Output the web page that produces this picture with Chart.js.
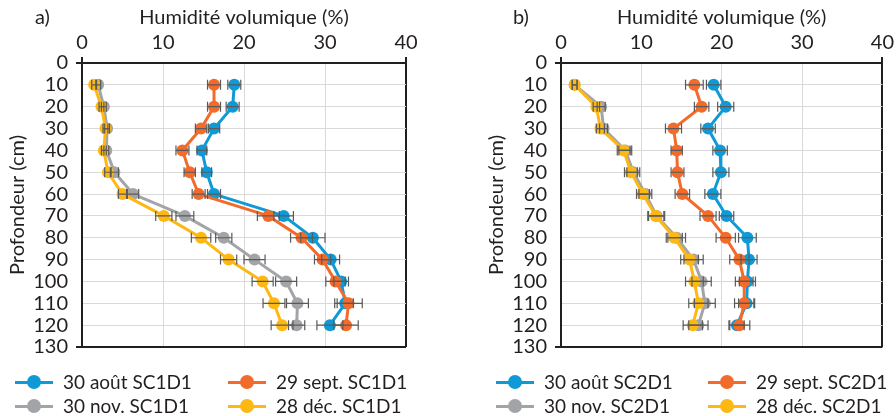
<!DOCTYPE html>
<html>
<head>
<meta charset="utf-8">
<script src="https://cdn.jsdelivr.net/npm/chart.js@4"></script>
<style>
  body { margin: 0; background: #fff; font-family: Lato, "Open Sans", sans-serif; color: #231f20; }
  .panel { position: absolute; top: 0; width: 448px; height: 416px; }
  .panel canvas { position: absolute; left: 0; top: 0; }
  .leg { position: absolute; font-size: 19px; line-height: 22px; white-space: nowrap; display: flex; align-items: center; }
  .mk { position: relative; width: 38px; height: 14px; margin-right: 10px; }
  .mk::before { content: ""; position: absolute; left: 0; right: 0; top: 5.5px; height: 3px; background: var(--c); }
  .mk::after { content: ""; position: absolute; left: 12px; top: 0; width: 14px; height: 14px; border-radius: 50%; background: var(--c); }
</style>
</head>
<body>
<div class="panel" id="pa" style="left:0"><canvas id="chartA" width="448" height="416"></canvas></div>
<div class="panel" id="pb" style="left:448px"><canvas id="chartB" width="448" height="416"></canvas></div>
<script>
// profondeurs (cm)
const profondeurs = [10, 20, 30, 40, 50, 60, 70, 80, 90, 100, 110, 120];

// a) SC1D1 - humidité volumique (%)
const a_aout = [18.8, 18.6, 16.3, 14.8, 15.4, 16.3, 24.9, 28.5, 30.7, 32.0, 32.5, 30.6];
const a_sept = [16.3, 16.3, 14.7, 12.4, 13.3, 14.4, 23.0, 27.1, 29.7, 31.3, 32.9, 32.6];
const a_nov  = [2.0, 2.7, 3.1, 3.0, 4.0, 6.3, 12.7, 17.5, 21.3, 25.2, 26.6, 26.5];
const a_dec  = [1.5, 2.4, 2.9, 2.7, 3.2, 5.0, 10.1, 14.7, 18.1, 22.3, 23.7, 24.7];
// demi-largeur des barres d'erreur
const a_aout_err = [0.8, 0.8, 0.7, 0.6, 0.6, 0.8, 1.2, 1.5, 1.1, 0.9, 1.0, 1.6];
const a_sept_err = [0.8, 0.8, 0.7, 0.8, 0.7, 0.8, 1.35, 1.35, 1.0, 1.2, 1.7, 1.5];
const a_nov_err  = [0.3, 0.3, 0.3, 0.3, 0.5, 0.7, 1.1, 1.0, 1.3, 1.3, 1.35, 1.0];
const a_dec_err  = [0.3, 0.3, 0.3, 0.3, 0.4, 0.5, 1.0, 1.2, 1.0, 1.3, 1.35, 1.35];

// b) SC2D1
const b_aout = [19.0, 20.5, 18.3, 19.8, 19.9, 18.9, 20.6, 23.2, 23.4, 23.2, 23.1, 21.9];
const b_sept = [16.6, 17.5, 14.0, 14.4, 14.5, 15.1, 18.3, 20.5, 22.2, 22.8, 22.8, 22.2];
const b_nov  = [1.7, 5.0, 5.3, 8.0, 9.0, 10.5, 11.9, 14.4, 16.5, 17.5, 17.9, 17.1];
const b_dec  = [1.7, 4.4, 4.9, 7.8, 8.7, 10.2, 11.8, 14.1, 16.0, 16.6, 17.1, 16.4];
const b_aout_err = [0.9, 1.0, 0.9, 0.9, 1.0, 1.0, 0.9, 1.1, 1.0, 1.0, 1.0, 0.9];
const b_sept_err = [1.1, 0.9, 1.0, 0.7, 0.8, 0.9, 1.0, 1.2, 1.2, 1.1, 1.2, 1.3];
const b_nov_err  = [0.3, 0.5, 0.5, 0.8, 0.8, 0.8, 1.0, 1.1, 1.2, 1.2, 1.3, 1.2];
const b_dec_err  = [0.3, 0.4, 0.5, 0.8, 0.8, 0.8, 1.0, 1.0, 1.1, 1.1, 1.2, 1.2];

const couleurs = ['#0f9ad6', '#f26b2b', '#a2a4a7', '#fdb813'];
const xTicks = [0, 10, 20, 30, 40];
const yTicks = [0, 10, 20, 30, 40, 50, 60, 70, 80, 90, 100, 110, 120, 130];

const noir = '#231f20';
const police = { family: 'Lato, "Open Sans", sans-serif', size: 20 };

// barres d'erreur horizontales + étiquette a)/b)
const errorBars = {
    id: 'errorBars',
    afterDatasetsDraw(chart, args, opts) {
        const { ctx, scales: { x, y } } = chart;
        ctx.save();
        ctx.strokeStyle = '#5a5a5a';
        ctx.lineWidth = 1.2;
        chart.data.datasets.forEach(ds => {
            ds.data.forEach((p, i) => {
                const e = ds.errors[i];
                const x1 = x.getPixelForValue(p.x - e), x2 = x.getPixelForValue(p.x + e);
                const py = y.getPixelForValue(p.y);
                ctx.beginPath();
                ctx.moveTo(x1, py); ctx.lineTo(x2, py);
                ctx.moveTo(x1, py - 5); ctx.lineTo(x1, py + 5);
                ctx.moveTo(x2, py - 5); ctx.lineTo(x2, py + 5);
                ctx.stroke();
            });
        });
        ctx.fillStyle = noir;
        ctx.font = '20px ' + police.family;
        ctx.textBaseline = 'middle';
        ctx.fillText(opts.lettre, opts.lx, 18);
        ctx.restore();
    }
};

function creerGraphique(canvasId, lettre, lx, series, erreurs, padLeft, padRight) {
    const datasets = series.map((s, k) => ({
        data: s.map((v, i) => ({ x: v, y: profondeurs[i] })),
        errors: erreurs[k],
        showLine: true,
        borderColor: couleurs[k],
        backgroundColor: couleurs[k],
        borderWidth: 3,
        pointRadius: 6,
        pointBorderWidth: 0,
        order: [3, 2, 1, 0][k]
    }));
    const finX = v => v === 0 || v === 40;
    const finY = v => v === 0 || v === 130;
    return new Chart(document.getElementById(canvasId), {
        type: 'scatter',
        data: { datasets },
        options: {
            responsive: false,
            animation: false,
            layout: { padding: { left: padLeft, right: padRight, top: 0, bottom: 69 } },
            plugins: {
                legend: { display: false },
                tooltip: { enabled: false },
                errorBars: { lettre, lx }
            },
            scales: {
                x: {
                    type: 'linear', position: 'top', min: 0, max: 40,
                    afterBuildTicks: s => { s.ticks = xTicks.map(v => ({ value: v })); },
                    afterFit: s => { s.height = 63; },
                    ticks: { color: noir, font: police, padding: 2, autoSkip: false },
                    title: { display: true, text: 'Humidité volumique (%)', color: noir, font: police, padding: { top: 6, bottom: 0 } },
                    border: { color: noir, width: 2 },
                    grid: {
                        color: c => finX(c.tick.value) ? noir : '#d9d9d9',
                        lineWidth: c => finX(c.tick.value) ? 2 : 1,
                        tickLength: 6,
                        tickColor: c => finX(c.tick.value) ? noir : 'rgba(0,0,0,0)'
                    }
                },
                y: {
                    type: 'linear', reverse: true, min: 0, max: 130,
                    afterBuildTicks: s => { s.ticks = yTicks.map(v => ({ value: v })); },
                    afterFit: s => { s.width = 82; },
                    ticks: { color: noir, font: police, padding: 8, autoSkip: false },
                    title: { display: true, text: 'Profondeur (cm)', color: noir, font: police, padding: { top: 6, bottom: 0 } },
                    border: { color: noir, width: 2 },
                    grid: {
                        color: c => finY(c.tick.value) ? noir : '#d9d9d9',
                        lineWidth: c => finY(c.tick.value) ? 2 : 1,
                        tickLength: 6,
                        tickColor: c => finY(c.tick.value) ? noir : 'rgba(0,0,0,0)'
                    }
                }
            }
        },
        plugins: [errorBars]
    });
}

creerGraphique('chartA', 'a)', 35, [a_aout, a_sept, a_nov, a_dec], [a_aout_err, a_sept_err, a_nov_err, a_dec_err], 0, 42);
creerGraphique('chartB', 'b)', 65, [b_aout, b_sept, b_nov, b_dec], [b_aout_err, b_sept_err, b_nov_err, b_dec_err], 31, 12);

// légendes (2 colonnes)
const nomsA = ['30 août SC1D1', '29 sept. SC1D1', '30 nov. SC1D1', '28 déc. SC1D1'];
const nomsB = ['30 août SC2D1', '29 sept. SC2D1', '30 nov. SC2D1', '28 déc. SC2D1'];
function legende(panelId, noms, cols) {
    const panel = document.getElementById(panelId);
    noms.forEach((n, k) => {
        const d = document.createElement('div');
        d.className = 'leg';
        d.style.left = cols[k % 2] + 'px';
        d.style.top = (k < 2 ? 371 : 395) + 'px';
        d.innerHTML = `<span class="mk" style="--c:${couleurs[k]}"></span>${n}`;
        panel.appendChild(d);
    });
}
legende('pa', nomsA, [15, 228]);
legende('pb', nomsB, [48, 260]);
</script>
</body>
</html>
